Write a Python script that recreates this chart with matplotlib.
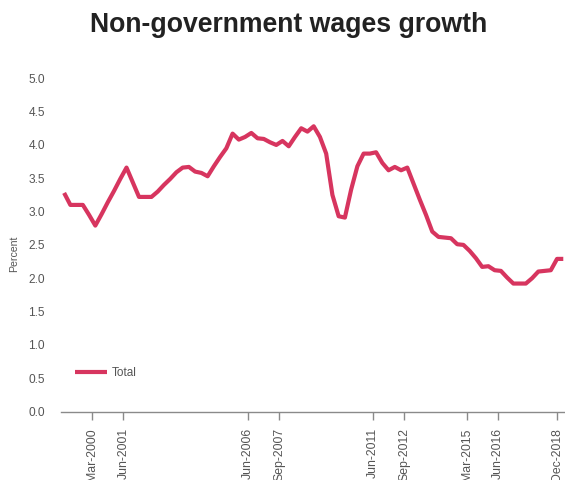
import numpy as np
import matplotlib
matplotlib.use("Agg")
import matplotlib.pyplot as plt

plt.rcParams['font.family'] = ['Liberation Sans', 'DejaVu Sans']

# Quarterly non-government wage growth, Dec-1998 to Dec-2018 (per cent)
total = [
    3.28, 3.10, 3.10, 3.10, 2.95, 2.79, 2.96, 3.14, 3.31, 3.49,
    3.66, 3.44, 3.22, 3.22, 3.22, 3.30, 3.40, 3.49, 3.59, 3.66,
    3.67, 3.60, 3.58, 3.53, 3.68, 3.82, 3.95, 4.17, 4.08, 4.12,
    4.18, 4.10, 4.09, 4.04, 4.00, 4.06, 3.98, 4.12, 4.25, 4.20,
    4.28, 4.12, 3.87, 3.25, 2.93, 2.91, 3.33, 3.68, 3.87, 3.87,
    3.89, 3.73, 3.62, 3.67, 3.62, 3.66, 3.42, 3.18, 2.95, 2.70,
    2.62, 2.61, 2.60, 2.51, 2.50, 2.41, 2.30, 2.17, 2.18, 2.12,
    2.11, 2.01, 1.92, 1.92, 1.92, 2.00, 2.10, 2.11, 2.12, 2.29,
    2.29,
]

tick_labels = ["Mar-2000", "Jun-2001", "Jun-2006", "Sep-2007", "Jun-2011",
               "Sep-2012", "Mar-2015", "Jun-2016", "Dec-2018"]
tick_pos = [4.5, 9.5, 29.5, 34.5, 49.5, 54.5, 64.6, 69.5, 79.0]

y_ticks = np.arange(0, 5.01, 0.5)

LINE = "#D7355F"
GREY_TXT = "#555555"
AXIS = "#8a8a8a"

W, H = 565, 480
fig = plt.figure(figsize=(W / 100, H / 100), dpi=100)

left, right = 61, 566.4
top, bottom = 78.3, 411.5
ax = fig.add_axes([left / W, 1 - bottom / H, (right - left) / W, (bottom - top) / H])

x = np.arange(len(total))
ax.plot(x, total, color=LINE, lw=3.0, solid_joinstyle='round',
        solid_capstyle='butt', label="Total", clip_on=False)

ax.set_xlim(-0.5, len(total) - 0.5)
ax.set_ylim(0, 5.0)

for s in ["top", "right", "left"]:
    ax.spines[s].set_visible(False)
ax.spines["bottom"].set_color(AXIS)
ax.spines["bottom"].set_linewidth(1.0)

ax.set_yticks(y_ticks)
ax.set_yticklabels([f"{v:.1f}" for v in y_ticks])
ax.tick_params(axis='y', length=0, pad=11.5, labelsize=8.6, labelcolor=GREY_TXT)

ax.set_xticks(tick_pos)
ax.set_xticklabels(tick_labels, rotation=90, va='top', ha='center')
ax.tick_params(axis='x', length=5.5, width=1.0, color=AXIS, pad=6.5,
               labelsize=8.8, labelcolor=GREY_TXT)

fig.text(14 / W, 1 - 254 / H, "Percent", rotation=90, ha='center', va='center',
         fontsize=7.6, color=GREY_TXT)

fig.text(289 / W, 1 - 32 / H, "Non-government wages growth", ha='center',
         va='baseline', fontsize=19.2, fontweight='bold', color="#222222")

leg = ax.legend(loc='center left',
                bbox_to_anchor=((75.3 - left) / (right - left), (bottom - 372.7) / (bottom - top)),
                frameon=False, borderpad=0, borderaxespad=0, handlelength=2.66,
                handletextpad=0.4, fontsize=8.5)
for t in leg.get_texts():
    t.set_color(GREY_TXT)

fig.savefig("out.png", dpi=100)
